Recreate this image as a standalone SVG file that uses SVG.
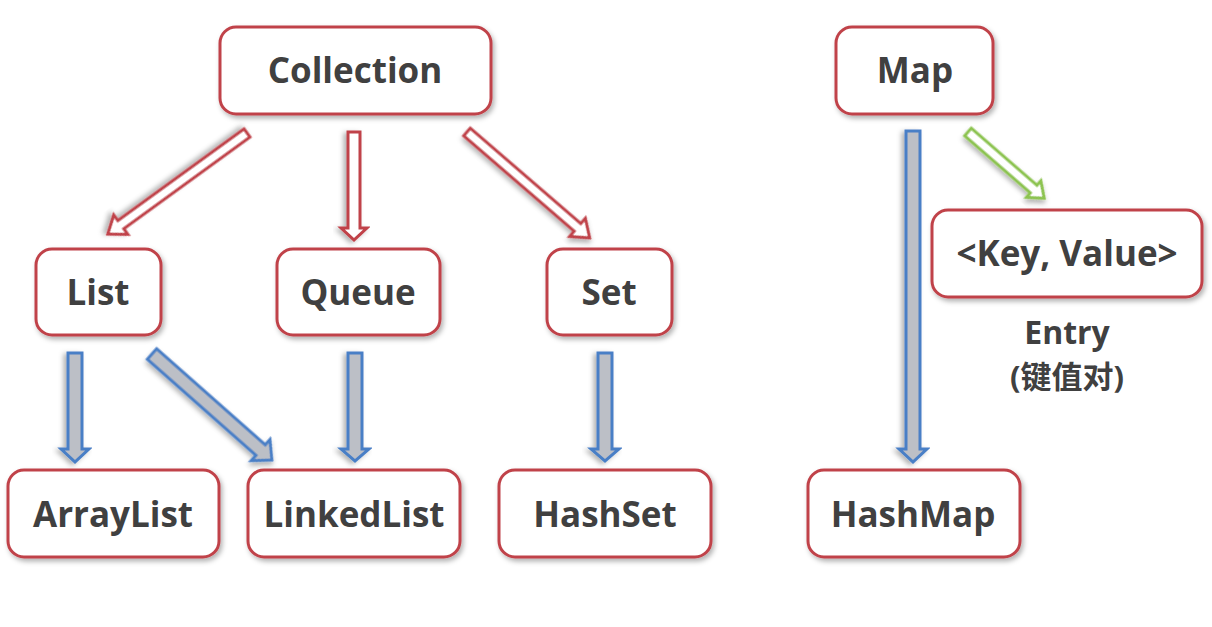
<svg xmlns="http://www.w3.org/2000/svg" width="1212" height="627" viewBox="0 0 1212 627">
<defs>
<filter id="sh" x="-10%" y="-10%" width="130%" height="140%">
<feDropShadow dx="2" dy="3" stdDeviation="2.5" flood-color="#000" flood-opacity="0.3"/>
</filter>
<style>
.box{fill:#fff;stroke:#c0434a;stroke-width:3;filter:url(#sh)}
.lbl{font-family:"Open Sans","Liberation Sans","Noto Sans CJK SC",sans-serif;font-weight:700;font-size:35px;fill:#404040;text-anchor:middle}
.red{fill:#fff;stroke:#c0434a;stroke-width:3;stroke-linejoin:miter;filter:url(#sh)}
.blue{fill:#bcbfc6;stroke:#4a7fc6;stroke-width:3;stroke-linejoin:miter;filter:url(#sh)}
.green{fill:#fff;stroke:#8cc34f;stroke-width:3;stroke-linejoin:miter;filter:url(#sh)}
</style>
</defs>
<rect width="1212" height="627" fill="#fff"/>
<g id="connectors">
<polygon class="red" points="0,-5 156,-5 156,-12 172,0 156,12 156,5 0,5" transform="translate(247 133) rotate(144)"/>
<polygon class="red" points="0,-6 96,-6 96,-13 108,0 96,13 96,6 0,6" transform="translate(354 132) rotate(90)"/>
<polygon class="red" points="0,-5 146,-5 146,-12 162,0 146,12 146,5 0,5" transform="translate(467 132) rotate(40.8)"/>
<polygon class="blue" points="0,-7 96,-7 96,-14 109,0 96,14 96,7 0,7" transform="translate(75 353) rotate(90)"/>
<polygon class="blue" points="0,-7 145,-7 145,-14 160,0 145,14 145,7 0,7" transform="translate(152 354) rotate(41.5)"/>
<polygon class="blue" points="0,-7 96,-7 96,-14 108,0 96,14 96,7 0,7" transform="translate(355 353) rotate(90)"/>
<polygon class="blue" points="0,-7 96,-7 96,-14 108,0 96,14 96,7 0,7" transform="translate(605 353) rotate(90)"/>
<polygon class="blue" points="0,-7 318,-7 318,-14 331,0 318,14 318,7 0,7" transform="translate(913 131) rotate(90)"/>
<polygon class="green" points="0,-5 87,-5 87,-11 101,0 87,11 87,5 0,5" transform="translate(968 132) rotate(41)"/>
</g>
<g id="collection"><rect class="box" x="220" y="27" width="271" height="87" rx="16"/><text class="lbl" x="355" y="83">Collection</text></g>
<g id="list"><rect class="box" x="36" y="249" width="125" height="86" rx="16"/><text class="lbl" x="98" y="305">List</text></g>
<g id="queue"><rect class="box" x="277" y="249" width="163" height="86" rx="16"/><text class="lbl" x="358" y="305">Queue</text></g>
<g id="set"><rect class="box" x="547" y="249" width="125" height="86" rx="16"/><text class="lbl" x="609" y="305">Set</text></g>
<g id="arraylist"><rect class="box" x="8" y="470" width="211" height="87" rx="16"/><text class="lbl" x="113" y="527">ArrayList</text></g>
<g id="linkedlist"><rect class="box" x="248" y="470" width="212" height="87" rx="16"/><text class="lbl" x="354" y="527">LinkedList</text></g>
<g id="hashset"><rect class="box" x="499" y="470" width="212" height="87" rx="16"/><text class="lbl" x="605" y="527">HashSet</text></g>
<g id="map"><rect class="box" x="836" y="27" width="157" height="87" rx="16"/><text class="lbl" x="915" y="83">Map</text></g>
<g id="keyvalue"><rect class="box" x="932" y="210" width="270" height="87" rx="16"/><text class="lbl" x="1067" y="266">&lt;Key, Value&gt;</text></g>
<g id="hashmap"><rect class="box" x="808" y="470" width="212" height="87" rx="16"/><text class="lbl" x="913" y="527">HashMap</text></g>
<g id="entry"><text class="lbl" x="1067" y="344" style="font-size:32px">Entry</text><text class="lbl" x="1067" y="388" style="font-size:31px">(键值对)</text></g>
</svg>
